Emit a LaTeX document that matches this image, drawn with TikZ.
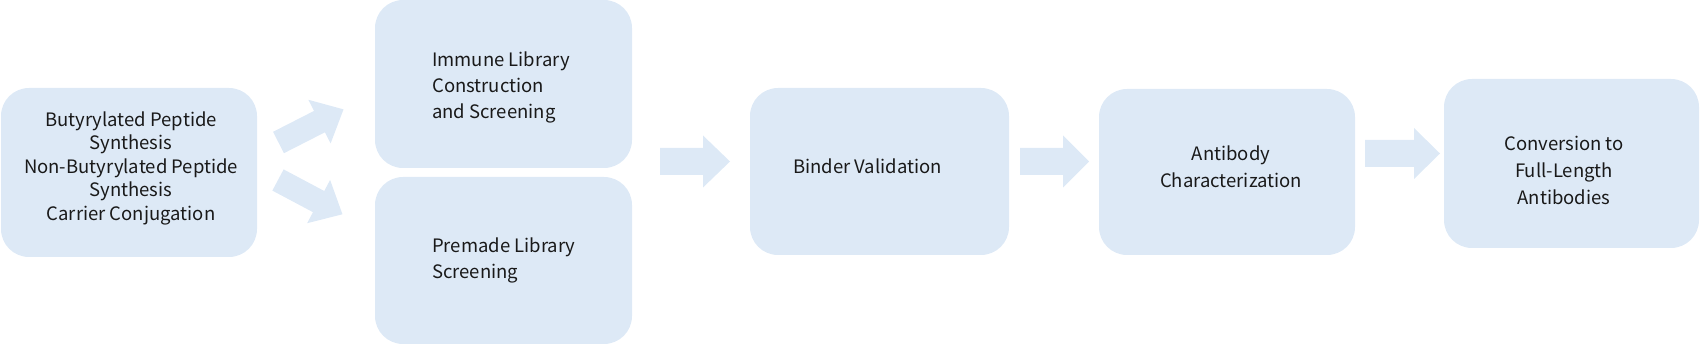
\documentclass[tikz,border=0pt]{standalone}
\usepackage{fontspec}
\setmainfont{Noto Sans CJK SC}
\definecolor{boxblue}{RGB}{221,233,246}
\definecolor{txtc}{RGB}{25,25,25}
\tikzset{
  box/.style={fill=boxblue, draw=none, rounded corners=28pt, inner sep=0pt},
  txt/.style={text=txtc, inner sep=0pt, font=\fontsize{18.5}{26}\selectfont},
  pics/blockarrow/.style n args={4}{code={
    \fill[boxblue] (0,-#2) -- ({#1-#4},-#2) -- ({#1-#4},-#3) -- (#1,0)
      -- ({#1-#4},#3) -- ({#1-#4},#2) -- (0,#2) -- cycle;}}
}
\begin{document}
\begin{tikzpicture}[x=1pt,y=-1pt]
\useasboundingbox (0,0) rectangle (1701,344);
% boxes
\node[box, minimum width=256pt, minimum height=169pt] (b1) at (129,172.5) {};
\node[box, minimum width=257pt, minimum height=168pt] (b2) at (503.5,84) {};
\node[box, minimum width=257pt, minimum height=167pt] (b3) at (503.5,260.5) {};
\node[box, minimum width=259pt, minimum height=167pt] (b4) at (879.5,171.5) {};
\node[box, minimum width=256pt, minimum height=166pt] (b5) at (1227,172) {};
\node[box, minimum width=255pt, minimum height=169pt] (b6) at (1571.5,163.5) {};
% texts
\node[txt, align=center, font=\fontsize{18.5}{23.5}\selectfont] (t1) at (131,168)
  {Butyrylated Peptide\\Synthesis\\Non-Butyrylated Peptide\\Synthesis\\Carrier Conjugation};
\node[txt, align=left, anchor=west] (t2) at (432,87) {Immune Library\\Construction\\and Screening};
\node[txt, align=left, anchor=west] (t3) at (432,260.5) {Premade Library\\Screening};
\node[txt, align=left, anchor=west] (t4) at (793,166) {Binder Validation};
\node[txt, align=center, font=\fontsize{18.5}{27}\selectfont] (t5) at (1231,166.5) {Antibody\\Characterization};
\node[txt, align=center, font=\fontsize{18.5}{27}\selectfont] (t6) at (1564,170) {Conversion to\\Full-Length\\Antibodies};
% block arrows
\pic[rotate=27] (a12) at (278.5,142.5) {blockarrow={73}{12}{24.5}{27}};
\pic[rotate=-28] (a13) at (278,180) {blockarrow={73}{12}{24.5}{27}};
\pic (a34) at (660,161.5) {blockarrow={70}{13.5}{26}{27}};
\pic (a45) at (1020,161.5) {blockarrow={69}{13.5}{26}{26}};
\pic (a56) at (1365,153.5) {blockarrow={75}{13.5}{25.5}{26}};
\end{tikzpicture}
\end{document}
